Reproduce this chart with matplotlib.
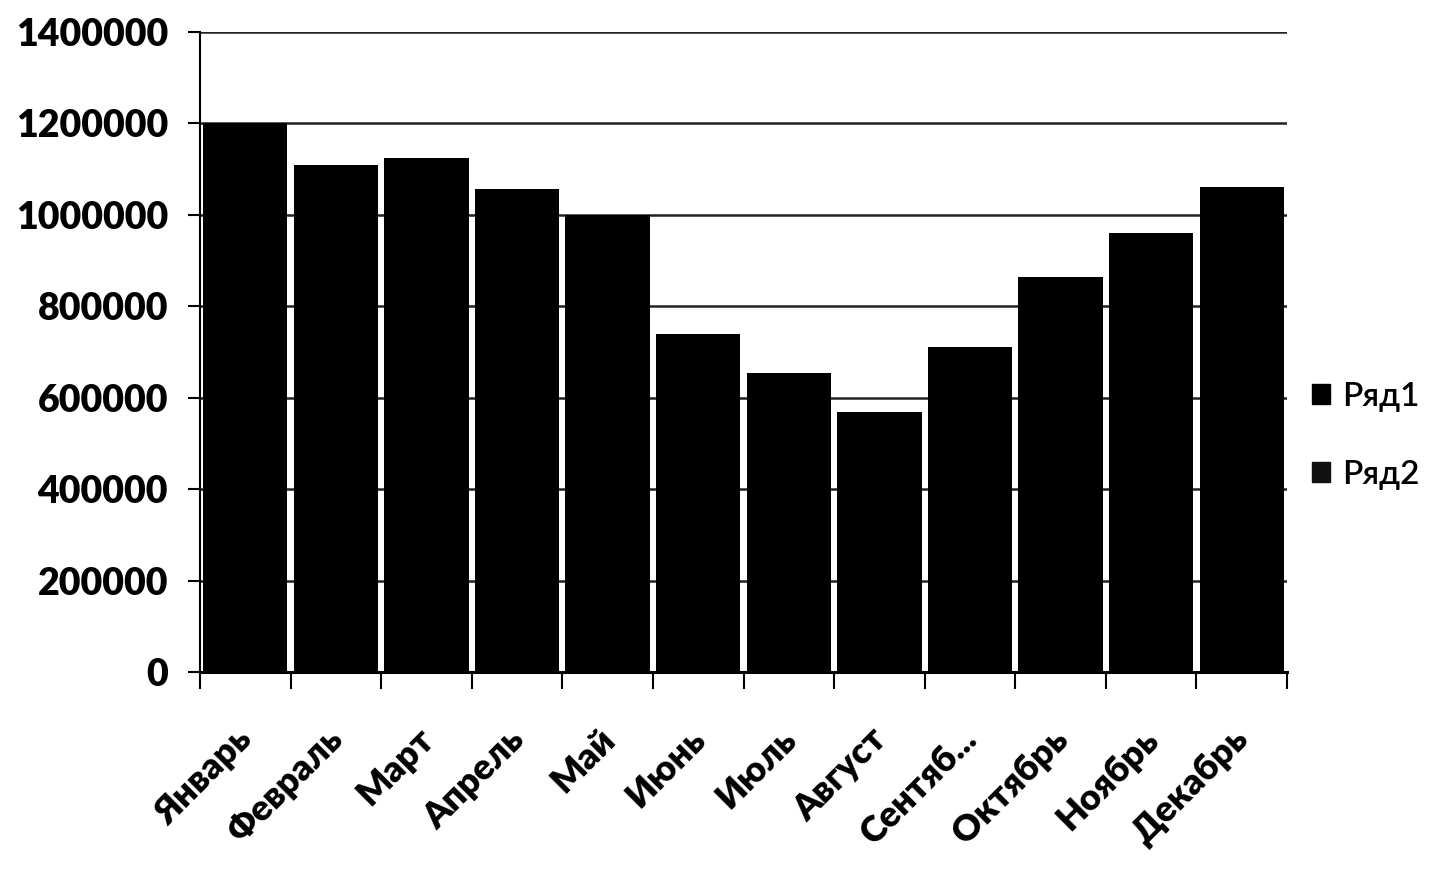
import matplotlib.pyplot as plt
import matplotlib.transforms as mtransforms
import numpy as np
from matplotlib.patches import Patch

# данные
months = ['Январь', 'Февраль', 'Март', 'Апрель', 'Май', 'Июнь',
          'Июль', 'Август', 'Сентяб...', 'Октябрь', 'Ноябрь', 'Декабрь']
row1 = [1200000, 1110000, 1125000, 1057000, 1000000, 740000,
        654000, 568000, 711000, 864000, 960000, 1060000]
yticks = [0, 200000, 400000, 600000, 800000, 1000000, 1200000, 1400000]

plt.rcParams['font.family'] = ['Lato', 'DejaVu Sans']

fig = plt.figure(figsize=(14.53, 8.73), dpi=100)
ax = fig.add_axes([0.1376, 0.2302, 0.7482, 0.7331])

x = np.arange(len(months))
ax.bar(x, row1, width=0.93, color='black', zorder=3)

ax.set_xlim(-0.5, len(months) - 0.5)
ax.set_ylim(0, 1400000)

# сетка
ax.set_yticks(yticks)
ax.set_yticklabels([str(v) for v in yticks], fontsize=27, fontweight='heavy')
ax.yaxis.grid(True, color='#222222', linewidth=1.8, zorder=0)
ax.tick_params(axis='y', length=9, width=1.5, pad=14)

# подписи месяцев и засечки на границах
ax.set_xticks(np.arange(len(months) + 1) - 0.5)
ax.set_xticklabels([])
ax.tick_params(axis='x', which='major', length=12, width=1.5, direction='out')
ax.set_xticks(x, minor=True)
ax.set_xticklabels(months, minor=True, rotation=45, ha='right',
                   rotation_mode='anchor', fontsize=26, fontweight='heavy')
ax.tick_params(axis='x', which='minor', length=0, pad=36)
shift = mtransforms.ScaledTranslation(-0.1, 0, fig.dpi_scale_trans)
for lbl in ax.get_xticklabels(minor=True):
    lbl.set_transform(lbl.get_transform() + shift)

for s in ['top', 'right']:
    ax.spines[s].set_visible(False)
ax.spines['left'].set_linewidth(1.5)
ax.spines['bottom'].set_linewidth(2.2)

handles = [Patch(color='black', label='Ряд1'), Patch(color='#111111', label='Ряд2')]
ax.legend(handles=handles, loc='center left', bbox_to_anchor=(0.995, 0.369),
          frameon=False, handlelength=0.55, handleheight=0.55,
          handletextpad=0.35, labelspacing=1.45,
          prop={'size': 24, 'weight': 'semibold'})

plt.savefig('out.png', dpi=100)
